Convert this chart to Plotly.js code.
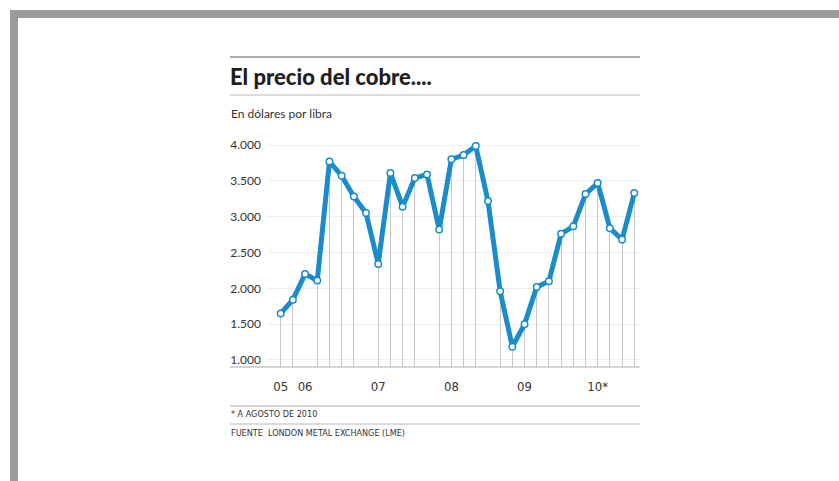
<!DOCTYPE html>
<html>
<head>
<meta charset="utf-8">
<script src="https://cdn.plot.ly/plotly-3.0.1.min.js"></script>
<style>
html,body{margin:0;padding:0;background:#fff;}
#chart{width:839px;height:481px;}
</style>
</head>
<body>
<div id="chart"></div>
<script>
// Data (dollars per pound, shown with thousands-dot format)
const periods = [0,1,2,3,4,5,6,7,8,9,10,11,12,13,14,15,16,17,18,19,20,21,22,23,24,25,26,27,28,29];
const prices = [1650,1840,2200,2110,3770,3570,3280,3050,2340,3610,3140,3540,3590,2820,3800,3860,3985,3220,1960,1185,1500,2020,2100,2760,2865,3315,3470,2840,2680,3330];
const yearTickPos = [0,2,8,14,20,26];
const yearTickText = ['05','06','07','08','09','10*'];
const yTicks = [1000,1500,2000,2500,3000,3500,4000];
const yTickText = ['1.000','1.500','2.000','2.500','3.000','3.500','4.000'];

const titleText = 'El precio del cobre....';
const subtitleText = 'En dólares por libra';
const noteText = '* A AGOSTO DE 2010';
const sourceText = 'FUENTE  LONDON METAL EXCHANGE (LME)';

// pixel helpers for paper coordinates (plot area 268..640 x 140..367)
const L = 268, R = 640, T = 140, B = 367;
const px = v => (v - L) / (R - L);
const py = v => (B - v) / (B - T);

const blue = '#1b8ccb';

const drops = {
  type: 'bar', x: periods, y: prices, width: 0.07,
  marker: {color: '#c8c8c8'}, hoverinfo: 'skip', showlegend: false
};
const line = {
  type: 'scatter', mode: 'lines+markers', x: periods, y: prices,
  line: {color: blue, width: 5},
  marker: {color: '#ffffff', size: 6.5, line: {color: blue, width: 1.5}},
  showlegend: false
};

const grayFrame = '#9b9b9b';
const rule = (y, w, c) => ({type:'line', xref:'paper', yref:'paper', x0:px(230), x1:px(640), y0:py(y), y1:py(y), line:{color:c, width:w}});

const layout = {
  width: 839, height: 481,
  margin: {l: L, r: 839 - R, t: T, b: 481 - B, pad: 0},
  paper_bgcolor: '#ffffff', plot_bgcolor: '#ffffff',
  font: {family: 'Lato, "Open Sans", sans-serif', color: '#333'},
  bargap: 0,
  title: {
    text: titleText, xref: 'container', yref: 'container',
    x: 230/839, xanchor: 'left', y: 1 - 77/481, yanchor: 'middle',
    font: {family: 'Lato, "Open Sans", sans-serif', size: 22, color: '#1e1e1e', weight: 900}
  },
  xaxis: {
    range: [-1.04, 29.47], showgrid: false, zeroline: false, showline: false,
    tickmode: 'array', tickvals: yearTickPos, ticktext: yearTickText,
    ticks: '', ticklabelstandoff: 10,
    tickfont: {family: '"DejaVu Sans Condensed", "Liberation Sans Narrow", sans-serif', size: 13, color: '#333'},
    fixedrange: true
  },
  yaxis: {
    range: [902, 4070], showgrid: true, gridcolor: '#ededed', gridwidth: 1,
    zeroline: false, showline: false,
    tickmode: 'array', tickvals: yTicks, ticktext: yTickText,
    ticks: '', ticklabelstandoff: 6,
    tickfont: {family: 'Lato, sans-serif', size: 12, color: '#333'},
    fixedrange: true
  },
  shapes: [
    // gray frame
    {type:'rect', xref:'paper', yref:'paper', x0:px(10), x1:px(839), y0:py(10), y1:py(18), fillcolor:grayFrame, line:{width:0}},
    {type:'rect', xref:'paper', yref:'paper', x0:px(10), x1:px(18), y0:py(10), y1:py(481), fillcolor:grayFrame, line:{width:0}},
    rule(57, 2, '#acacac'),
    rule(95, 1.2, '#b5b5b5'),
    rule(367, 1.2, '#aaaaaa'),
    rule(406, 1.2, '#b0b0b0'),
    rule(424, 1.2, '#b8b8b8')
  ],
  annotations: [
    {xref:'paper', yref:'paper', x:px(229), y:py(113), xanchor:'left', yanchor:'middle', showarrow:false,
     text: subtitleText, font:{family:'Lato, sans-serif', size:12, color:'#333'}},
    {xref:'paper', yref:'paper', x:px(229), y:py(414), xanchor:'left', yanchor:'middle', showarrow:false,
     text: noteText, font:{family:'"DejaVu Sans Condensed", "Liberation Sans Narrow", sans-serif', size:9, color:'#333'}},
    {xref:'paper', yref:'paper', x:px(229), y:py(433), xanchor:'left', yanchor:'middle', showarrow:false,
     text: sourceText, font:{family:'"DejaVu Sans Condensed", "Liberation Sans Narrow", sans-serif', size:9, color:'#333'}}
  ]
};

Plotly.newPlot('chart', [drops, line], layout, {displayModeBar: false, staticPlot: true});
</script>
</body>
</html>
